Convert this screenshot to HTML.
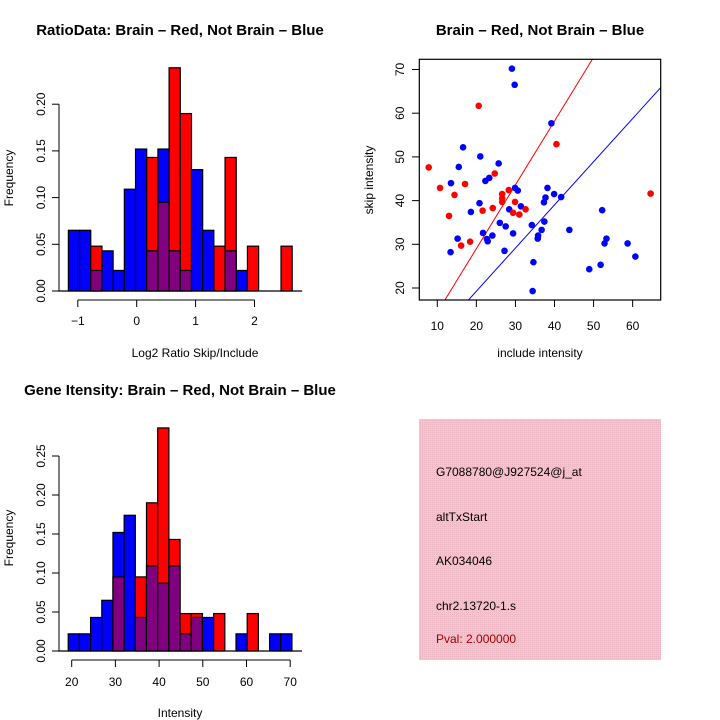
<!DOCTYPE html>
<html><head><meta charset="utf-8"><style>
body{margin:0;background:#fff}
svg{display:block;font-family:"Liberation Sans",sans-serif}
</style></head><body>
<svg id="s" width="720" height="720" xmlns="http://www.w3.org/2000/svg">
<defs><pattern id="hatch" width="2" height="2" patternUnits="userSpaceOnUse"><rect width="2" height="2" fill="#f4c4d0"/><rect width="1" height="1" fill="#eab4c0"/></pattern></defs>
<text x="180" y="35" text-anchor="middle" font-size="15" font-weight="bold">RatioData: Brain – Red, Not Brain – Blue</text>
<text x="540" y="35" text-anchor="middle" font-size="15" font-weight="bold">Brain – Red, Not Brain – Blue</text>
<text x="180" y="395" text-anchor="middle" font-size="15" font-weight="bold">Gene Itensity: Brain – Red, Not Brain – Blue</text>
<text x="195" y="357" text-anchor="middle" font-size="12">Log2 Ratio Skip/Include</text>
<text transform="translate(13,178) rotate(-90)" text-anchor="middle" font-size="12">Frequency</text>
<text x="180" y="717" text-anchor="middle" font-size="12">Intensity</text>
<text transform="translate(13,538) rotate(-90)" text-anchor="middle" font-size="12">Frequency</text>
<text x="540" y="357" text-anchor="middle" font-size="12">include intensity</text>
<text transform="translate(373,180) rotate(-90)" text-anchor="middle" font-size="12">skip intensity</text>
<g>
<rect x="419" y="419" width="242" height="241" fill="url(#hatch)"/>
<text x="436" y="476" font-size="12">G7088780@J927524@j_at</text>
<text x="436" y="521" font-size="12">altTxStart</text>
<text x="436" y="565" font-size="12">AK034046</text>
<text x="436" y="610" font-size="12">chr2.13720-1.s</text>
<text x="436" y="643" font-size="12" fill="#a00000">Pval: 2.000000</text>
</g>
</svg>
<script>
// Ratio histogram data
const ratioStart = -1.16, ratioBin = 0.19;
const ratioBlue = [0.065,0.065,0.022,0.043,0.022,0.109,0.152,0.043,0.152,0.043,0.022,0.130,0.065,0,0.043,0.022,0,0,0,0];
const ratioRed  = [0,0,0.048,0,0,0,0,0.143,0.095,0.239,0.190,0,0,0.048,0.143,0,0.048,0,0,0.048];
const ratioXTicks = [-1,0,1,2];
const ratioYTicks = [0,0.05,0.10,0.15,0.20];
const ratioYLabels = ["0.00","0.05","0.10","0.15","0.20"];
// Intensity histogram data
const intStart = 19.2, intBin = 2.56;
const intBlue = [0.022,0.022,0.043,0.065,0.152,0.174,0.043,0.109,0.087,0.109,0.022,0.043,0.043,0,0,0.022,0,0,0.022,0.022];
const intRed  = [0,0,0,0,0.095,0,0.095,0.190,0.286,0.143,0.048,0.048,0,0.048,0,0,0.048,0,0,0];
const intXTicks = [20,30,40,50,60,70];
const intYTicks = [0,0.05,0.10,0.15,0.20,0.25];
const intYLabels = ["0.00","0.05","0.10","0.15","0.20","0.25"];
// Scatter data
const redX = [7.8,10.7,13.0,14.4,16.1,17.1,18.4,20.6,21.6,24.2,24.7,26.6,26.6,26.6,28.3,29.4,29.9,31.0,32.6,40.5,64.6];
const redY = [47.6,42.9,36.5,41.3,29.7,43.8,30.6,61.7,37.7,38.3,46.2,41.5,40.5,39.7,42.4,37.2,39.7,36.8,38.0,52.9,41.6];
const blueX = [29.1,29.8,16.6,15.5,21.0,25.7,22.3,23.3,13.5,20.8,18.6,28.4,29.9,30.6,31.4,26.0,27.5,21.7,24.1,22.7,22.9,29.4,15.2,13.4,27.2,34.2,34.6,34.4,35.8,35.7,36.7,37.4,37.3,37.7,38.2,39.9,39.2,41.7,43.8,48.9,51.8,52.2,52.8,53.3,58.7,60.7];
const blueY = [70.2,66.5,52.2,47.7,50.1,48.5,44.5,45.2,44.0,39.4,37.4,38.0,42.9,42.3,38.7,34.9,34.1,32.6,32.0,31.2,30.7,32.5,31.3,28.2,28.5,34.4,25.9,19.3,32.0,31.3,33.3,35.2,39.6,40.7,42.9,41.5,57.7,40.8,33.3,24.3,25.3,37.8,30.2,31.3,30.2,27.2];
const redLine = [-0.2, 1.46];  // intercept, slope
const blueLine = [-0.5, 0.988];
const scXTicks = [10,20,30,40,50,60];
const scYTicks = [20,30,40,50,60,70];

const NS="http://www.w3.org/2000/svg", svg=document.getElementById('s');
function mk(t,a,p){const e=document.createElementNS(NS,t);for(const k in a)e.setAttribute(k,a[k]);(p||svg).appendChild(e);return e;}

function hist(name,start,bin,blue,red,xs,ys,ylab,xsc,ysc,axY,tickLabY,labX){
  const g=mk('g',{});
  
  
  for(let i=0;i<blue.length;i++){
    const x0=xsc(start+i*bin), x1=xsc(start+(i+1)*bin);
    const b=blue[i], r=red[i], hi=Math.max(b,r), lo=Math.min(b,r);
    if(hi>0){
      const e=mk('rect',{x:x0,y:ysc(hi),width:x1-x0,height:ysc(0)-ysc(hi),fill:b>=r?'#0000ff':'#ff0000',stroke:'#000','stroke-width':1.2},g);
      
      
    }
    if(lo>0){
      const e=mk('rect',{x:x0,y:ysc(lo),width:x1-x0,height:ysc(0)-ysc(lo),fill:'#800080',stroke:'#000','stroke-width':1.2},g);
      
      
    }
  }
  const x0=xsc(start), xe=xsc(start+blue.length*bin);
  mk('line',{x1:x0-10,x2:xe+10,y1:ysc(0),y2:ysc(0),stroke:'#000','stroke-width':1.2},g);
  mk('line',{x1:labX,x2:labX,y1:ysc(ys[0]),y2:ysc(ys[ys.length-1]),stroke:'#000','stroke-width':1},g);
  ys.forEach((v,i)=>{mk('line',{x1:labX-7,x2:labX,y1:ysc(v),y2:ysc(v),stroke:'#000'},g);
    const t=mk('text',{transform:`translate(${labX-14},${ysc(v)}) rotate(-90)`,'text-anchor':'middle','font-size':12},g);t.textContent=ylab[i];
    
    });
  mk('line',{x1:xsc(xs[0]),x2:xsc(xs[xs.length-1]),y1:axY,y2:axY,stroke:'#000'},g);
  xs.forEach(v=>{mk('line',{x1:xsc(v),x2:xsc(v),y1:axY,y2:axY+7,stroke:'#000'},g);
    const t=mk('text',{x:xsc(v),y:tickLabY,'text-anchor':'middle','font-size':12},g);t.textContent=String(v).replace('-','−');
    
    });
}
hist('ratio-histogram',ratioStart,ratioBin,ratioBlue,ratioRed,ratioXTicks,ratioYTicks,ratioYLabels,
  v=>136.7+v*58.9, v=>291-v*934, 300, 325, 59);
hist('intensity-histogram',intStart,intBin,intBlue,intRed,intXTicks,intYTicks,intYLabels,
  v=>71.7+(v-20)*4.37, v=>651-v*780, 660, 686, 59);

const sx=v=>437.3+(v-10)*3.907, sy=v=>288-(v-20)*4.37;
const sg=mk('g',{});


const clip=mk('clipPath',{id:'sc'},svg);mk('rect',{x:419,y:59,width:242,height:241},clip);
[[redLine,'#ff0000','red-fit-line'],[blueLine,'#0000ff','blue-fit-line']].forEach(([L,c,n])=>{
  const e=mk('line',{x1:sx(0),y1:sy(L[0]),x2:sx(80),y2:sy(L[0]+L[1]*80),stroke:c,'stroke-width':1,'clip-path':'url(#sc)'},sg);
  
  
});
blueX.forEach((v,i)=>{const e=mk('circle',{cx:sx(v),cy:sy(blueY[i]),r:3.3,fill:'#0000ff'},sg);
  
  });
redX.forEach((v,i)=>{const e=mk('circle',{cx:sx(v),cy:sy(redY[i]),r:3.3,fill:'#ff0000'},sg);
  
  });
mk('rect',{x:419.3,y:59.3,width:241.4,height:240.7,fill:'none',stroke:'#000','stroke-width':1.2},sg);
scXTicks.forEach(v=>{mk('line',{x1:sx(v),x2:sx(v),y1:300,y2:307,stroke:'#000'},sg);
  const t=mk('text',{x:sx(v),y:330,'text-anchor':'middle','font-size':12},sg);t.textContent=v;
  
  });
scYTicks.forEach(v=>{mk('line',{x1:412,x2:419.3,y1:sy(v),y2:sy(v),stroke:'#000'},sg);
  const t=mk('text',{transform:`translate(404,${sy(v)}) rotate(-90)`,'text-anchor':'middle','font-size':12},sg);t.textContent=v;
  
  });
</script>
</body></html>
